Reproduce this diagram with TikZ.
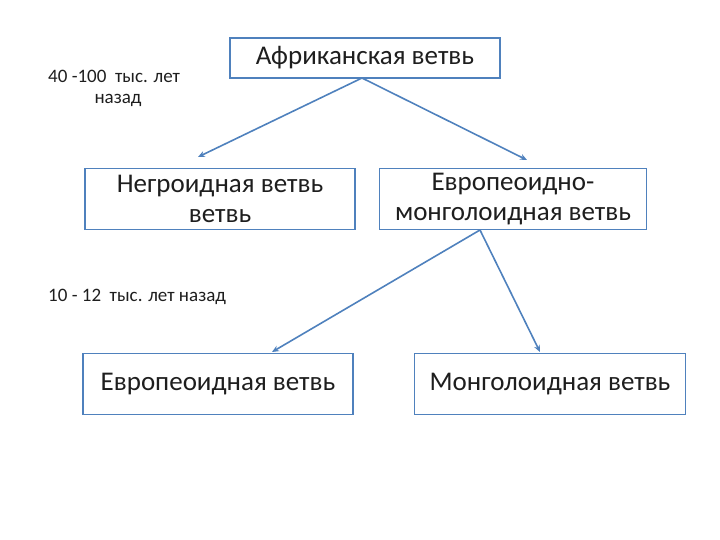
\documentclass[tikz,border=0pt]{standalone}
\usepackage{fontspec}
\setmainfont{Carlito}
\usetikzlibrary{arrows.meta}
\definecolor{bb}{RGB}{79,129,189}
\definecolor{tx}{RGB}{30,30,30}
\begin{document}
\begin{tikzpicture}[x=1pt,y=-1pt,
  box/.style={draw=bb,line width=1.2pt,fill=white,minimum height=61pt,minimum width=270pt,font=\fontsize{27}{30}\selectfont,text=tx,align=center,inner sep=0pt},
  arr/.style={draw=bb,line width=1.6pt,-{Stealth[length=7pt,width=6pt]}},
  lab/.style={font=\fontsize{19}{21}\selectfont,text=tx,align=center,inner sep=0pt}]
\useasboundingbox (0,0) rectangle (720,540);
\node[box,minimum height=40pt] (af) at (365,58) {Африканская ветвь};
\node[box] (ng) at (220,199) {Негроидная ветвь\\ветвь};
\node[box,minimum width=267pt] (em) at (513,199) {Европеоидно-\\монголоидная ветвь};
\node[box] (ev) at (218,384) {Европеоидная ветвь};
\node[box,minimum width=271pt] (mn) at (550,384) {Монголоидная ветвь};
\coordinate (a0) at (362,78);
\coordinate (a1) at (198,157);
\coordinate (a2) at (527,160);
\coordinate (b0) at (480,230);
\coordinate (b1) at (272,352);
\coordinate (b2) at (540,352);
\draw[arr] (a0) -- (a1);
\draw[arr] (a0) -- (a2);
\draw[arr] (b0) -- (b1);
\draw[arr] (b0) -- (b2);
\node[lab,anchor=west] (t1) at (48,76) {40 -100~ тыс. лет};
\node[lab] (t2) at (118,100) {назад};
\node[lab,anchor=west] (t3) at (48,297) {10 - 12~ тыс. лет назад};
\end{tikzpicture}
\end{document}
